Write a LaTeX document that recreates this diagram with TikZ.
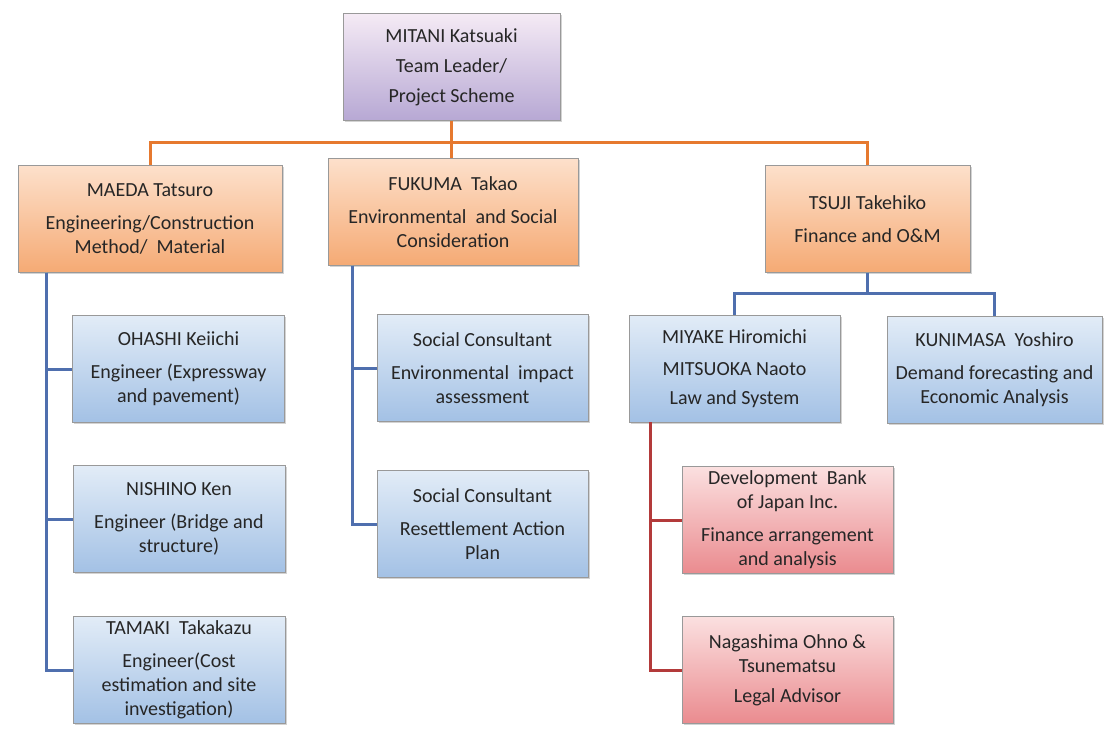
\documentclass[tikz,border=0pt]{standalone}
\usepackage{fontspec}
\setmainfont{Carlito}
\usetikzlibrary{shadows}

\definecolor{orgline}{HTML}{E6792F}
\definecolor{bluline}{HTML}{4F6FAE}
\definecolor{redline}{HTML}{B33A3A}

\begin{document}
\begin{tikzpicture}[x=1pt,y=1pt,
    purplecard/.style={top color=violet!8, bottom color={rgb,255:red,183;green,168;blue,212}},
    orangecard/.style={top color={rgb,255:red,253;green,224;blue,203}, bottom color={rgb,255:red,245;green,170;blue,116}},
    bluecard/.style={top color={rgb,255:red,226;green,236;blue,247}, bottom color={rgb,255:red,163;green,193;blue,229}},
    redcard/.style={top color={rgb,255:red,251;green,224;blue,224}, bottom color={rgb,255:red,234;green,139;blue,143}}]
        \useasboundingbox (0,0) rectangle (1105,-735);
        \begin{scope}[every node/.style={rectangle,draw=black!40,inner sep=0pt,align=center,
            text=black!85,font=\fontsize{20}{24}\selectfont,minimum height=107pt,
            drop shadow={shadow xshift=1.5pt,shadow yshift=-1.5pt,opacity=0.35}}]
            \node[purplecard,minimum width=217pt] (mitani) at (451.5,-67) {MITANI Katsuaki\\[6pt] Team Leader/\\[6pt] Project Scheme};
            \node[orangecard,minimum width=264pt] (maeda) at (150,-219) {MAEDA Tatsuro\\[9pt] Engineering/Construction\\ Method/\ \ Material};
            \node[orangecard,minimum width=250pt] (fukuma) at (453,-212) {FUKUMA\ \ Takao\\[9pt] Environmental\ \ and Social\\ Consideration};
            \node[orangecard,minimum width=205pt] (tsuji) at (867.5,-219) {TSUJI Takehiko\\[9pt] Finance and O\&M};
            \node[bluecard,minimum width=212pt] (ohashi) at (178.5,-369) {OHASHI Keiichi\\[9pt] Engineer (Expressway\\ and pavement)};
            \node[bluecard,minimum width=212pt] (nishino) at (179,-519) {NISHINO Ken\\[9pt] Engineer (Bridge and\\ structure)};
            \node[bluecard,minimum width=212pt] (tamaki) at (179,-670) {TAMAKI\ \ Takakazu\\[9pt] Engineer(Cost\\ estimation and site\\ investigation)};
            \node[bluecard,minimum width=211pt] (social1) at (482.5,-368) {Social Consultant\\[9pt] Environmental\ \ impact\\ assessment};
            \node[bluecard,minimum width=211pt] (social2) at (482.5,-524) {Social Consultant\\[9pt] Resettlement Action\\ Plan};
            \node[bluecard,minimum width=211pt] (miyake) at (734.5,-368.5) {MIYAKE Hiromichi\\[8pt] MITSUOKA Naoto\\[5pt] Law and System};
            \node[bluecard,minimum width=215pt] (kunimasa) at (994.5,-370) {KUNIMASA\ \ Yoshiro\\[9pt] Demand forecasting and\\ Economic Analysis};
            \node[redcard,minimum width=211pt] (dbj) at (787.5,-520) {Development\ \ Bank\\ of Japan Inc.\\[9pt] Finance arrangement\\ and analysis};
            \node[redcard,minimum width=211pt] (nagashima) at (787.5,-670) {Nagashima Ohno \&\\ Tsunematsu\\[6pt] Legal Advisor};
        \end{scope}
        \coordinate (obus) at (452,-143);
        \coordinate (tbus) at (867,-293);
        \begin{scope}[line width=3pt]
            % top level
            \draw[orgline] (mitani.south) -- (mitani.south |- fukuma.north);
            \draw[orgline] (maeda.north) |- (obus) -| (tsuji.north);
            % finance branch
            \draw[bluline] (tsuji.south) -- (tsuji.south |- tbus);
            \draw[bluline] (miyake.north) |- (tbus) -| (kunimasa.north);
            % engineering branch
            \draw[bluline] ([xshift=29pt]maeda.south west) |- (ohashi.west);
            \draw[bluline] ([xshift=29pt]maeda.south west) |- (nishino.west);
            \draw[bluline] ([xshift=29pt]maeda.south west) |- (tamaki.west);
            % social branch
            \draw[bluline] ([xshift=25pt]fukuma.south west) |- (social1.west);
            \draw[bluline] ([xshift=25pt]fukuma.south west) |- (social2.west);
            % advisors
            \draw[redline] ([xshift=22pt]miyake.south west) |- (dbj.west);
            \draw[redline] ([xshift=22pt]miyake.south west) |- (nagashima.west);
        \end{scope}
    \end{tikzpicture}
\end{document}
